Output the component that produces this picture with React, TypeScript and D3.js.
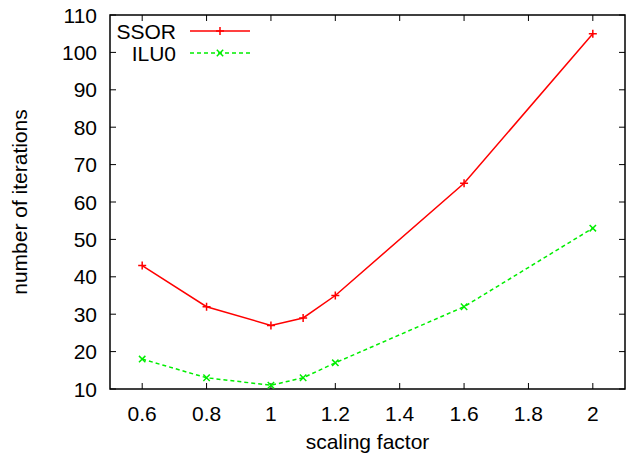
import { useEffect, useRef } from 'react'
import * as d3 from 'd3'

const scaling = [0.6, 0.8, 1, 1.1, 1.2, 1.6, 2]
const ssor = [43, 32, 27, 29, 35, 65, 105]
const ilu0 = [18, 13, 11, 13, 17, 32, 53]
const xTicks = [0.6, 0.8, 1, 1.2, 1.4, 1.6, 1.8, 2]
const yTicks = [10, 20, 30, 40, 50, 60, 70, 80, 90, 100, 110]

const series = [
  { name: 'SSOR', values: ssor, color: '#ff0000', dash: null, marker: 'plus' },
  { name: 'ILU0', values: ilu0, color: '#00ee00', dash: '4,3', marker: 'cross' },
]

export default function App() {
  const svgRef = useRef<SVGSVGElement>(null)
  const width = 632
  const height = 457

  useEffect(() => {
    const el = svgRef.current
    if (!el) return
    const margin = { top: 15, right: 7, bottom: 68, left: 110 }
    const w = width - margin.left - margin.right
    const h = height - margin.top - margin.bottom

    const x = d3.scaleLinear().domain([0.5, 2.1]).range([0, w])
    const y = d3.scaleLinear().domain([10, 110]).range([h, 0])

    const svg = d3.select(el)
    svg.selectAll('*').remove()
    const font = 'Liberation Sans, Arial, sans-serif'
    const fs = 21

    const g = svg.append('g').attr('transform', `translate(${margin.left},${margin.top})`)

    // ticks, mirrored on all sides
    const tl = 6
    xTicks.forEach(t => {
      g.append('line').attr('x1', x(t)).attr('x2', x(t)).attr('y1', h).attr('y2', h - tl).attr('stroke', '#000')
      g.append('line').attr('x1', x(t)).attr('x2', x(t)).attr('y1', 0).attr('y2', tl).attr('stroke', '#000')
      g.append('text').attr('x', x(t)).attr('y', h + 32).attr('text-anchor', 'middle')
        .attr('font-family', font).attr('font-size', fs).text(String(t))
    })
    yTicks.forEach(t => {
      g.append('line').attr('x1', 0).attr('x2', tl).attr('y1', y(t)).attr('y2', y(t)).attr('stroke', '#000')
      g.append('line').attr('x1', w).attr('x2', w - tl).attr('y1', y(t)).attr('y2', y(t)).attr('stroke', '#000')
      g.append('text').attr('x', -13).attr('y', y(t)).attr('dy', '0.36em').attr('text-anchor', 'end')
        .attr('font-family', font).attr('font-size', fs).text(String(t))
    })

    g.append('rect').attr('width', w).attr('height', h).attr('fill', 'none')
      .attr('stroke', '#000').attr('stroke-width', 1.5)

    const drawMarker = (sel: any, cx: number, cy: number, kind: string, color: string) => {
      const s = kind === 'plus' ? 4 : 3.2
      const p = kind === 'plus'
        ? `M${cx - s},${cy}H${cx + s}M${cx},${cy - s}V${cy + s}`
        : `M${cx - s},${cy - s}L${cx + s},${cy + s}M${cx - s},${cy + s}L${cx + s},${cy - s}`
      sel.append('path').attr('d', p).attr('stroke', color).attr('stroke-width', 1.5).attr('fill', 'none')
    }

    const line = d3.line<number>().x((_, i) => x(scaling[i])).y(d => y(d))

    series.forEach((s, si) => {
      g.append('path').datum(s.values).attr('d', line).attr('fill', 'none')
        .attr('stroke', s.color).attr('stroke-width', 1.5)
        .attr('stroke-dasharray', s.dash)
      s.values.forEach((v, i) => drawMarker(g, x(scaling[i]), y(v), s.marker, s.color))

      // legend
      const ly = 16 + si * 22
      g.append('text').attr('x', 66).attr('y', ly).attr('dy', '0.36em').attr('text-anchor', 'end')
        .attr('font-family', font).attr('font-size', fs).text(s.name)
      g.append('line').attr('x1', 80).attr('x2', 140).attr('y1', ly).attr('y2', ly)
        .attr('stroke', s.color).attr('stroke-width', 1.5).attr('stroke-dasharray', s.dash)
      drawMarker(g, 110, ly, s.marker, s.color)
    })

    g.append('text').attr('x', w / 2).attr('y', h + 60).attr('text-anchor', 'middle')
      .attr('font-family', font).attr('font-size', fs).text('scaling factor')
    g.append('text').attr('transform', `translate(${-83},${h / 2}) rotate(-90)`)
      .attr('text-anchor', 'middle').attr('font-family', font).attr('font-size', fs)
      .text('number of iterations')
  }, [])

  return (
    <svg ref={svgRef} width={width} height={height}
      style={{ position: 'absolute', left: 0, top: 0, display: 'block', background: '#fff' }} />
  )
}
